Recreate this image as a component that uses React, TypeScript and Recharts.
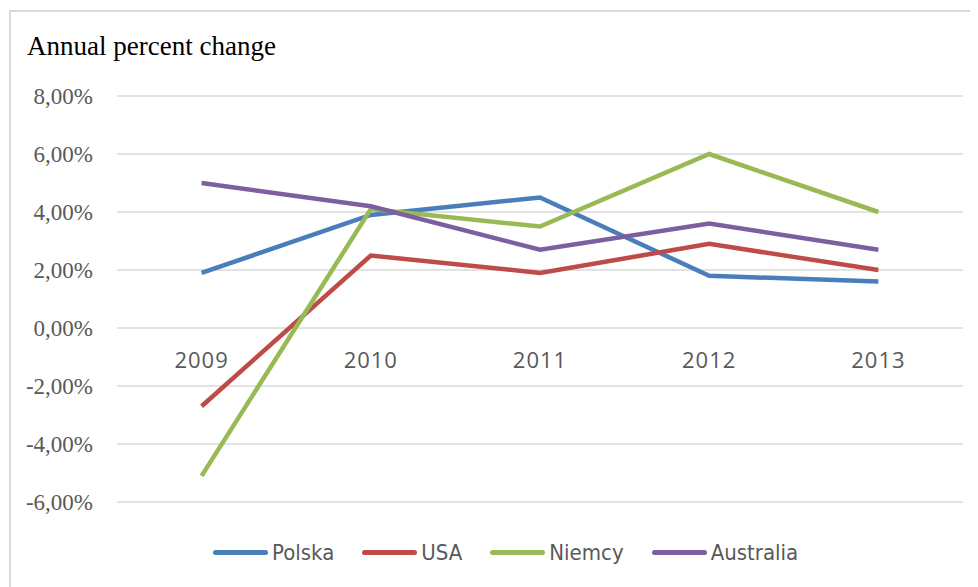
import { CartesianGrid, Line, LineChart, XAxis, YAxis } from 'recharts'

const years = ['2009', '2010', '2011', '2012', '2013']
const polska = [1.9, 3.9, 4.5, 1.8, 1.6]
const usa = [-2.7, 2.5, 1.9, 2.9, 2.0]
const niemcy = [-5.1, 4.1, 3.5, 6.0, 4.0]
const australia = [5.0, 4.2, 2.7, 3.6, 2.7]
const yTicks = [-6, -4, -2, 0, 2, 4, 6, 8]

const series = [
  { key: 'Polska', values: polska, color: '#4a7ebb' },
  { key: 'USA', values: usa, color: '#be4b48' },
  { key: 'Niemcy', values: niemcy, color: '#98b954' },
  { key: 'Australia', values: australia, color: '#7d5fa0' },
]

const data = years.map((year, i) => {
  const row: Record<string, string | number> = { year }
  series.forEach((s) => (row[s.key] = s.values[i]))
  return row
})

const pct = (v: number) => v.toFixed(2).replace('.', ',') + '%'

// Excel puts the category labels just under the zero line, not at the plot bottom
function YearTick(props: any) {
  const { x, y, payload } = props
  return (
    <text
      x={x}
      y={y - 151}
      textAnchor="middle"
      dominantBaseline="central"
      style={{ fill: '#595959', fontSize: 22, fontFamily: "'Open Sans', sans-serif", letterSpacing: 1 }}
    >
      {payload.value}
    </text>
  )
}

function PctTick(props: any) {
  const { x, y, payload } = props
  return (
    <text
      x={x}
      y={y}
      textAnchor="end"
      dominantBaseline="central"
      style={{ fill: '#595959', fontSize: 23, fontFamily: "'Liberation Serif', serif" }}
    >
      {pct(payload.value)}
    </text>
  )
}

export default function App() {
  return (
    <div style={{ position: 'relative', width: 970, height: 579 }}>
      <div style={{ position: 'absolute', left: 1, top: 2, width: 972, height: 600, border: '2px solid #d9d9d9', boxSizing: 'border-box' }} />
      <div style={{ position: 'absolute', left: 19, top: 23, fontFamily: "'Liberation Serif', serif", fontSize: 27, color: '#000' }}>
        Annual percent change
      </div>
      <div style={{ position: 'absolute', left: 0, top: 0 }}>
        <LineChart width={970} height={579} data={data} margin={{ top: 88, right: 15, bottom: 55, left: 0 }}>
          <CartesianGrid vertical={false} stroke="#d9d9d9" strokeWidth={1.5} />
          <XAxis dataKey="year" scale="band" axisLine={false} tickLine={false} height={30} tick={<YearTick />} interval={0} />
          <YAxis
            domain={[-6, 8]}
            ticks={yTicks}
            width={109}
            axisLine={false}
            tickLine={false}
            tickSize={0}
            tickMargin={24}
            tick={<PctTick />}
            interval={0}
          />
          {series.map((s) => (
            <Line
              key={s.key}
              dataKey={s.key}
              stroke={s.color}
              strokeWidth={4.5}
              dot={false}
              activeDot={false}
              isAnimationActive={false}
            />
          ))}
        </LineChart>
      </div>
      <div
        style={{
          position: 'absolute',
          left: 205,
          top: 532,
          display: 'flex',
          alignItems: 'center',
          fontFamily: "'DejaVu Sans', sans-serif",
          fontStretch: 'condensed',
          fontSize: 22,
          color: '#595959',
        }}
      >
        {series.map((s) => (
          <div key={s.key} style={{ display: 'flex', alignItems: 'center', marginRight: 28 }}>
            <span style={{ width: 55, height: 5, borderRadius: 3, background: s.color, marginRight: 4 }} />
            <span>{s.key}</span>
          </div>
        ))}
      </div>
    </div>
  )
}
